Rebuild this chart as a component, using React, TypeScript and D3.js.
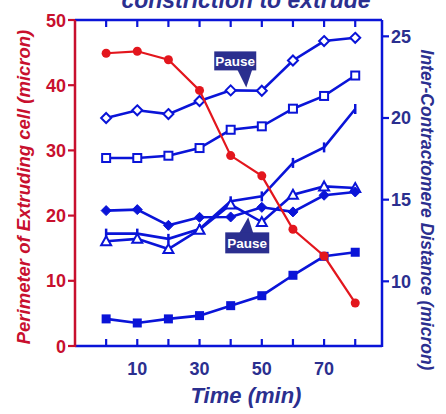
import React from "react";
import * as d3 from "d3";

const times = [0, 10, 20, 30, 40, 50, 60, 70, 80];
const perimeter = [44.9, 45.2, 43.9, 39.2, 29.2, 26.1, 17.9, 13.8, 6.6];
const openDiamond = [20.0, 20.47, 20.24, 21.04, 21.69, 21.67, 23.52, 24.71, 24.91];
const openSquare = [17.55, 17.55, 17.69, 18.16, 19.28, 19.49, 20.57, 21.35, 22.6];
const tickSeries = [12.92, 12.92, 12.6, 13.2, 14.9, 15.2, 17.25, 18.2, 20.55];
const openTriangle = [12.45, 12.6, 11.98, 13.16, 14.7, 13.63, 15.3, 15.81, 15.71];
const filledDiamond = [14.33, 14.39, 13.43, 13.92, 13.94, 14.53, 14.25, 15.27, 15.47];
const filledSquare = [7.7, 7.45, 7.7, 7.9, 8.51, 9.12, 10.37, 11.53, 11.78];

const xTicks = [0, 10, 20, 30, 40, 50, 60, 70, 80];
const xTickLabels = [10, 30, 50, 70];
const leftTicks = [0, 10, 20, 30, 40, 50];
const rightTicks = [10, 15, 20, 25];

const RED = "#e3161d";
const RED_DARK = "#c8102e";
const BLUE = "#0a14d8";
const NAVY = "#2b2f8f";
const FONT = "'Liberation Sans', Arial, sans-serif";

export default function App() {
  const left = 75, right = 382, top = 20, bottom = 346;
  const x = d3.scaleLinear().domain([-10, 88.6]).range([left, right]);
  const yL = d3.scaleLinear().domain([0, 50]).range([bottom, top]);
  const yR = d3.scaleLinear().domain([6.04, 26.0]).range([bottom, top]);

  const lineL = d3.line<number>().x((_, i) => x(times[i])).y((d) => yL(d));
  const lineR = d3.line<number>().x((_, i) => x(times[i])).y((d) => yR(d));

  const sw = 2.6;
  const blueSeries: { data: number[]; marker: string }[] = [
    { data: openDiamond, marker: "openDiamond" },
    { data: openSquare, marker: "openSquare" },
    { data: tickSeries, marker: "tick" },
    { data: openTriangle, marker: "openTriangle" },
    { data: filledDiamond, marker: "filledDiamond" },
    { data: filledSquare, marker: "filledSquare" },
  ];

  const marker = (type: string, cx: number, cy: number, k: string) => {
    switch (type) {
      case "openDiamond":
        return <path key={k} d={`M${cx},${cy - 5}L${cx + 5},${cy}L${cx},${cy + 5}L${cx - 5},${cy}Z`} fill="white" stroke={BLUE} strokeWidth={2} />;
      case "filledDiamond":
        return <path key={k} d={`M${cx},${cy - 5}L${cx + 5},${cy}L${cx},${cy + 5}L${cx - 5},${cy}Z`} fill={BLUE} stroke={BLUE} strokeWidth={1} />;
      case "openSquare":
        return <rect key={k} x={cx - 4} y={cy - 4} width={8} height={8} fill="white" stroke={BLUE} strokeWidth={2} />;
      case "filledSquare":
        return <rect key={k} x={cx - 4.5} y={cy - 4.5} width={9} height={9} fill={BLUE} />;
      case "openTriangle":
        return <path key={k} d={`M${cx},${cy - 5}L${cx + 5},${cy + 4}L${cx - 5},${cy + 4}Z`} fill="white" stroke={BLUE} strokeWidth={2} />;
      case "tick":
        return <line key={k} x1={cx} x2={cx} y1={cy - 5} y2={cy + 5} stroke={BLUE} strokeWidth={2.5} />;
    }
    return null;
  };

  const p1x = (x(40) + x(50)) / 2, p1y = yR(openDiamond[4]) - 3;
  const p2x = (x(40) + x(50)) / 2 + 2, p2y = yR(14.1) + 3;

  return (
    <svg width={446} height={414} style={{ position: "absolute", left: 0, top: 0, background: "white" }} fontFamily={FONT}>
      <text x={246} y={8} textAnchor="middle" fontSize={23} fontWeight="bold" fontStyle="italic" fill={NAVY}>constriction to extrude</text>

      <line x1={left} x2={right} y1={top} y2={top} stroke={BLUE} strokeWidth={2.5} />
      <line x1={left} x2={right} y1={bottom} y2={bottom} stroke={BLUE} strokeWidth={2.5} />
      <line x1={left} x2={left} y1={top} y2={bottom + 1} stroke={RED_DARK} strokeWidth={2.5} />
      <line x1={right} x2={right} y1={top} y2={bottom + 1} stroke={BLUE} strokeWidth={2.5} />

      {xTicks.map((t) => (
        <g key={"xt" + t}>
          <line x1={x(t)} x2={x(t)} y1={top} y2={top + 7} stroke={BLUE} strokeWidth={2.2} />
          <line x1={x(t)} x2={x(t)} y1={bottom} y2={bottom - 7} stroke={BLUE} strokeWidth={2.2} />
        </g>
      ))}
      {xTickLabels.map((t) => (
        <text key={"xl" + t} x={x(t)} y={375} textAnchor="middle" fontSize={18} fontWeight="bold" fill={NAVY}>{t}</text>
      ))}
      {leftTicks.map((t) => (
        <g key={"lt" + t}>
          <line x1={left - 7} x2={left} y1={yL(t)} y2={yL(t)} stroke={RED_DARK} strokeWidth={2.2} />
          <text x={left - 9} y={yL(t) + 6.5} textAnchor="end" fontSize={18} fontWeight="bold" fill={RED_DARK}>{t}</text>
        </g>
      ))}
      {rightTicks.map((t) => (
        <g key={"rt" + t}>
          <line x1={right} x2={right + 7} y1={yR(t)} y2={yR(t)} stroke={BLUE} strokeWidth={2.2} />
          <text x={right + 9} y={yR(t) + 6.5} textAnchor="start" fontSize={18} fontWeight="bold" fill={NAVY}>{t}</text>
        </g>
      ))}

      <text transform={`translate(30,${(top + bottom) / 2 + 4}) rotate(-90)`} textAnchor="middle" fontSize={18.5} fontWeight="bold" fontStyle="italic" fill={RED_DARK}>Perimeter of Extruding cell (micron)</text>
      <text transform={`translate(421,210) rotate(90)`} textAnchor="middle" fontSize={17.5} fontWeight="bold" fontStyle="italic" fill={NAVY}>Inter-Contractomere Distance (micron)</text>
      <text x={246} y={403} textAnchor="middle" fontSize={22} fontWeight="bold" fontStyle="italic" fill={NAVY}>Time (min)</text>

      {blueSeries.map((s, si) => (
        <g key={"bs" + si}>
          <path d={lineR(s.data) || ""} fill="none" stroke={BLUE} strokeWidth={sw} />
          {s.data.map((v, i) => marker(s.marker, x(times[i]), yR(v), `m${si}-${i}`))}
        </g>
      ))}

      <path d={lineL(perimeter) || ""} fill="none" stroke={RED} strokeWidth={2.2} />
      {perimeter.map((v, i) => (
        <circle key={"rc" + i} cx={x(times[i])} cy={yL(v)} r={4.5} fill={RED} />
      ))}

      <g>
        <path d={`M${p1x - 9},${p1y - 18}L${p1x + 6},${p1y - 18}L${p1x},${p1y}Z`} fill={NAVY} />
        <rect x={p1x - 32} y={p1y - 36} width={42} height={19} fill={NAVY} />
        <text x={p1x - 11} y={p1y - 21.5} textAnchor="middle" fontSize={13.5} fontWeight="bold" fill="white">Pause</text>
      </g>
      <g>
        <path d={`M${p2x - 9},${p2y + 16}L${p2x + 5},${p2y + 16}L${p2x},${p2y}Z`} fill={NAVY} />
        <rect x={p2x - 23} y={p2y + 15} width={44} height={21} fill={NAVY} />
        <text x={p2x - 1} y={p2y + 30.5} textAnchor="middle" fontSize={13.5} fontWeight="bold" fill="white">Pause</text>
      </g>
    </svg>
  );
}
